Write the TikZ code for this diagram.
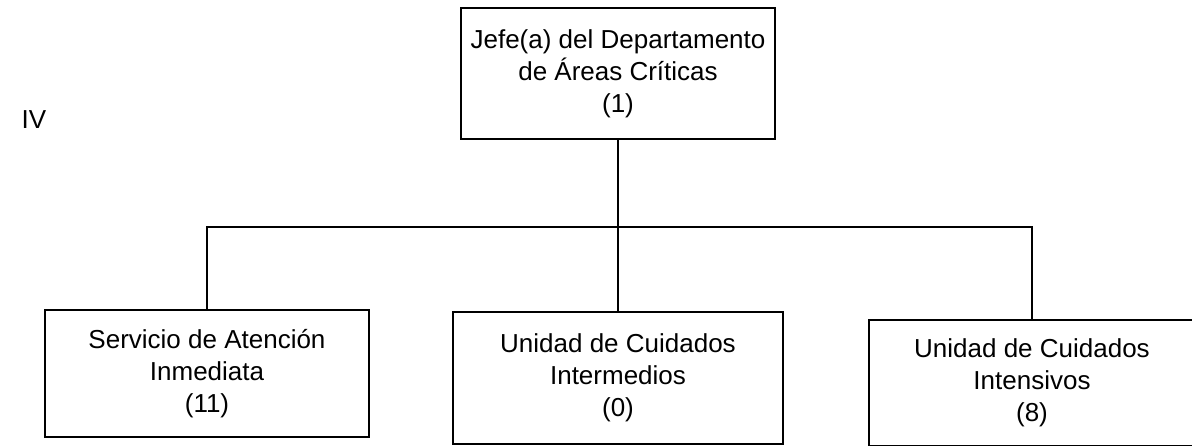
\documentclass[tikz,border=0pt]{standalone}
\usepackage{fontspec}
\setmainfont{Liberation Sans}
\usetikzlibrary{positioning}

\begin{document}
\begin{tikzpicture}[x=1pt,y=-1pt,
  orgbox/.style={draw,line width=2.2pt,align=center,inner sep=0pt,
    font=\fontsize{26}{32}\selectfont},
  orglink/.style={line width=2.2pt}
]
  \useasboundingbox (0,0) rectangle (1192,445);

  % Level
  \node[font=\fontsize{26}{32}\selectfont] (lvl) at (34,120) {IV};

  % Head of department
  \node[orgbox,minimum width=314pt,minimum height=131pt] (jefe) at (618,73.5) {
    Jefe(a) del Departamento\\
    de Áreas Críticas\\
    (1)};

  % Units
  \node[orgbox,minimum width=324pt,minimum height=127pt] (sai) at (207,373.5) {
    Servicio de Atención\\
    Inmediata\\
    (11)};
  \node[orgbox,minimum width=330pt,minimum height=132pt] (ucin) at (618,378) {
    Unidad de Cuidados\\
    Intermedios\\
    (0)};
  \node[orgbox,minimum width=326pt,minimum height=126pt] (ucint) at (1032,383) {
    Unidad de Cuidados\\
    Intensivos\\
    (8)};

  % Links
  \coordinate (bus) at (618,227);
  \draw[orglink] (jefe.south) -- (bus);
  \draw[orglink] (sai.north) |- (bus) -| (ucint.north);
  \draw[orglink] (bus) -- (ucin.north);
\end{tikzpicture}
\end{document}
